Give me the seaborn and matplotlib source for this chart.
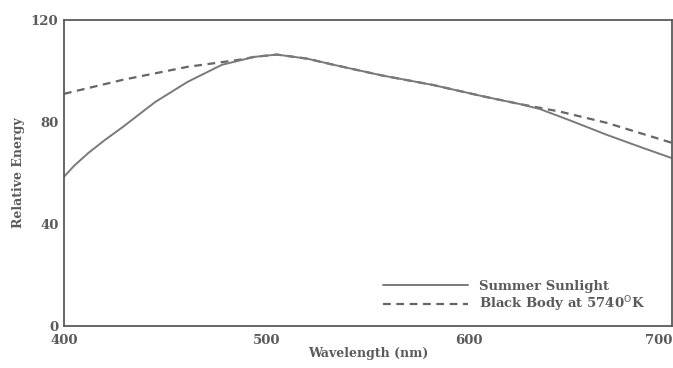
import matplotlib
matplotlib.use('Agg')
import matplotlib.pyplot as plt
import pandas as pd
import seaborn as sns

# Summer sunlight spectrum
sun_wl = [400, 405, 412, 420, 429, 445, 461, 478, 494, 505, 520, 533, 557, 582, 607,
          625, 635, 650, 668, 685, 700]
sun_energy = [58.5, 62.8, 67.8, 72.8, 78, 87.8, 95.7, 102.4, 105.5, 106.4, 104.8, 102.4, 98.2,
              94.5, 90, 87, 85, 80.5, 74.9, 70, 65.8]

# Black body at 5740 K
bb_wl = [400, 429, 461, 486, 494, 505, 520, 533, 557, 582, 607, 625, 645, 668, 700]
bb_energy = [91, 96.5, 101.6, 104.3, 105.5, 106.4, 104.8, 102.4, 98.2, 94.5, 90, 87, 84,
             79.6, 71.8]

sun = pd.DataFrame({'Wavelength': sun_wl, 'Energy': sun_energy})
bb = pd.DataFrame({'Wavelength': bb_wl, 'Energy': bb_energy})

sns.set_style('white')
grey = '#5a5a5a'
plt.rcParams['font.family'] = ['DejaVu Serif']

fig = plt.figure(figsize=(6.73, 3.68), dpi=100)
ax = fig.add_axes([0.095, 0.114, 0.9035, 0.832])

sns.lineplot(data=bb, x='Wavelength', y='Energy', ax=ax, color='#666666',
             linestyle=(0, (3.5, 2.5)), linewidth=1.6, label='Black Body at 5740$^{\\mathrm{O}}$K')
sns.lineplot(data=sun, x='Wavelength', y='Energy', ax=ax, color='#7a7a7a',
             linewidth=1.4, label='Summer Sunlight')

ax.set_xlim(400, 700)
ax.set_ylim(0, 120)
ax.set_xticks([400, 500, 600, 700])
ax.set_yticks([0, 40, 80, 120])
ax.tick_params(axis='both', direction='inout', length=4, width=1, colors=grey,
               labelsize=9.5)
ax.tick_params(axis='x', pad=4)
ax.tick_params(axis='y', pad=2)
for lab in ax.get_xticklabels() + ax.get_yticklabels():
    lab.set_fontweight('bold')
    lab.set_color(grey)
ax.get_xticklabels()[-1].set_horizontalalignment('right')

for side in ['left', 'right', 'top', 'bottom']:
    ax.spines[side].set_visible(True)
    ax.spines[side].set_color(grey)
    ax.spines[side].set_linewidth(1.3)

ax.set_xlabel('Wavelength (nm)', fontsize=9, fontweight='bold', color=grey, labelpad=0)
ax.set_ylabel('Relative Energy', fontsize=9, fontweight='bold', color=grey, labelpad=4)

handles, labels = ax.get_legend_handles_labels()
leg = ax.legend(handles[::-1], labels[::-1], loc='lower right', frameon=False,
                handlelength=6.5, fontsize=9.5, labelspacing=0.15,
                bbox_to_anchor=(0.975, 0.0))
for t in leg.get_texts():
    t.set_fontweight('bold')
    t.set_color(grey)

fig.savefig('out.png', dpi=100)
